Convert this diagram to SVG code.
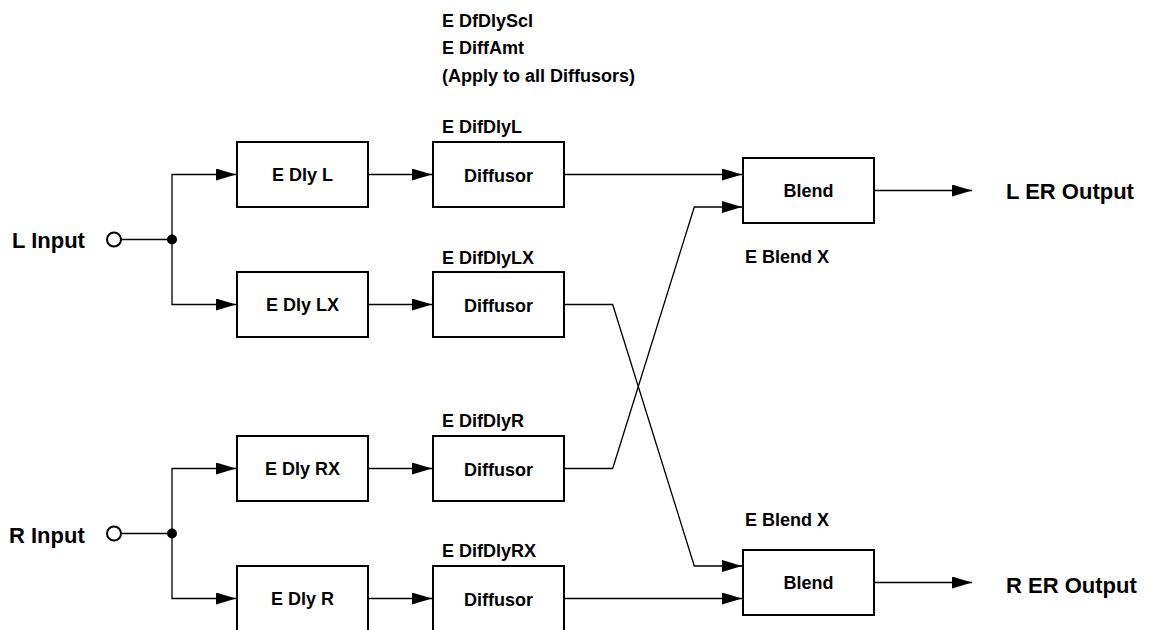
<svg xmlns="http://www.w3.org/2000/svg" width="1156" height="630" viewBox="0 0 1156 630">
<style>
.box{fill:#fff;stroke:#000;stroke-width:2}
.t{font-family:"Liberation Sans",Arial,sans-serif;font-weight:bold;fill:#000}
.in{font-size:18px;text-anchor:middle}
.lb{font-size:18px}
.io{font-size:22px}
.c{fill:none;stroke:#000;stroke-width:1.3}
</style>
<defs>
<marker id="ah" viewBox="0 0 20 12" refX="20" refY="6" markerWidth="20" markerHeight="12" markerUnits="userSpaceOnUse" orient="auto"><path d="M0,0 L20,6 L0,12 z" fill="#000"/></marker>
</defs>
<rect width="1156" height="630" fill="#fff"/>
<g id="connectors">
<line class="c" x1="121" y1="239.5" x2="172" y2="239.5"/>
<path class="c" d="M172,239.5 V174.5 H236" marker-end="url(#ah)"/>
<path class="c" d="M172,239.5 V304.5 H236" marker-end="url(#ah)"/>
<line class="c" x1="121" y1="533.5" x2="172" y2="533.5"/>
<path class="c" d="M172,533.5 V468.5 H236" marker-end="url(#ah)"/>
<path class="c" d="M172,533.5 V598.5 H236" marker-end="url(#ah)"/>
<path class="c" d="M368,174.5 H432" marker-end="url(#ah)"/>
<path class="c" d="M368,304.5 H432" marker-end="url(#ah)"/>
<path class="c" d="M368,468.5 H432" marker-end="url(#ah)"/>
<path class="c" d="M368,598.5 H432" marker-end="url(#ah)"/>
<path class="c" d="M564,174.5 H742" marker-end="url(#ah)"/>
<path class="c" d="M564,304.5 H612.7 L694.3,566 H742" marker-end="url(#ah)"/>
<path class="c" d="M564,468.5 H612.7 L694.3,207 H742" marker-end="url(#ah)"/>
<path class="c" d="M564,598.5 H742" marker-end="url(#ah)"/>
<path class="c" d="M874,190.5 H972" marker-end="url(#ah)"/>
<path class="c" d="M874,582.5 H972" marker-end="url(#ah)"/>
<circle cx="172" cy="239.5" r="5" fill="#000"/>
<circle cx="172" cy="533.5" r="5" fill="#000"/>
</g>
<g id="l-input"><circle cx="114" cy="239.5" r="7" fill="#fff" stroke="#000" stroke-width="2"/><text class="t io" x="12" y="248">L Input</text></g>
<g id="r-input"><circle cx="114" cy="533.5" r="7" fill="#fff" stroke="#000" stroke-width="2"/><text class="t io" x="9" y="543">R Input</text></g>
<g id="global-params"><text class="t lb" x="442" y="27">E DfDlyScl</text><text class="t lb" x="442" y="54">E DiffAmt</text><text class="t lb" x="442" y="82">(Apply to all Diffusors)</text></g>
<g id="dly-l"><rect class="box" x="237" y="142" width="131" height="65"/><text class="t in" x="302.5" y="181">E Dly L</text></g>
<g id="dly-lx"><rect class="box" x="237" y="272" width="131" height="65"/><text class="t in" x="302.5" y="311">E Dly LX</text></g>
<g id="dly-rx"><rect class="box" x="237" y="436" width="131" height="65"/><text class="t in" x="302.5" y="475">E Dly RX</text></g>
<g id="dly-r"><rect class="box" x="237" y="566" width="131" height="65"/><text class="t in" x="302.5" y="605">E Dly R</text></g>
<g id="dif-l"><text class="t lb" x="442" y="133">E DifDlyL</text><rect class="box" x="433" y="142" width="131" height="65"/><text class="t in" x="498.5" y="182">Diffusor</text></g>
<g id="dif-lx"><text class="t lb" x="442" y="264">E DifDlyLX</text><rect class="box" x="433" y="272" width="131" height="65"/><text class="t in" x="498.5" y="312">Diffusor</text></g>
<g id="dif-r"><text class="t lb" x="442" y="427">E DifDlyR</text><rect class="box" x="433" y="436" width="131" height="65"/><text class="t in" x="498.5" y="476">Diffusor</text></g>
<g id="dif-rx"><text class="t lb" x="442" y="557">E DifDlyRX</text><rect class="box" x="433" y="566" width="131" height="65"/><text class="t in" x="498.5" y="606">Diffusor</text></g>
<g id="blend-l"><rect class="box" x="743" y="158" width="131" height="65"/><text class="t in" x="808.5" y="197">Blend</text><text class="t lb" x="745" y="263">E Blend X</text></g>
<g id="blend-r"><text class="t lb" x="745" y="526">E Blend X</text><rect class="box" x="743" y="550" width="131" height="65"/><text class="t in" x="808.5" y="589">Blend</text></g>
<g id="l-out"><text class="t io" x="1006" y="199">L ER Output</text></g>
<g id="r-out"><text class="t io" x="1006" y="593">R ER Output</text></g>
</svg>
